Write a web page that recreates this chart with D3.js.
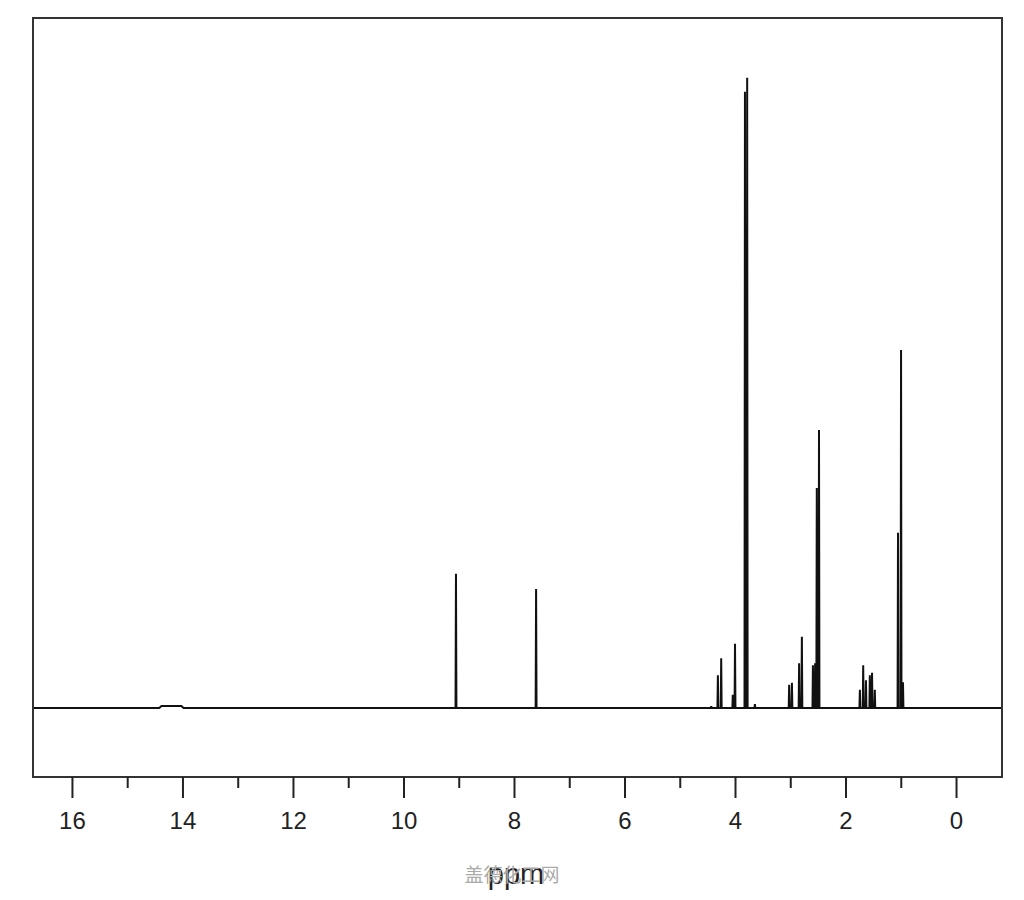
<!DOCTYPE html>
<html lang="en">
<head>
    <meta charset="UTF-8">
    <title>NMR spectrum</title>
    <script src="https://d3js.org/d3.v7.min.js"></script>
    <style>
        body { margin: 0; background: #fff; }
        svg { display: block; }
    </style>
</head>
<body>
    <svg width="1024" height="900"></svg>
    <script>
        // peak positions (ppm) and heights (tallest = 100)
        const peakPpm = [9.05, 7.60, 4.43, 4.31, 4.25, 4.04, 4.00, 3.82, 3.78, 3.64,
                         3.02, 2.97, 2.84, 2.79, 2.59, 2.55, 2.52, 2.48,
                         1.74, 1.68, 1.63, 1.56, 1.52, 1.47, 1.05, 0.995, 0.96];
        const peakHeight = [21.3, 18.9, 0.3, 5.2, 7.9, 2.1, 10.2, 97.8, 100, 0.6,
                            3.7, 4.0, 7.1, 11.3, 6.8, 7.1, 34.9, 44.1,
                            2.9, 6.8, 4.4, 5.2, 5.6, 2.9, 27.8, 56.8, 4.1];
        // broad low hump near 14 ppm
        const humpPpm = [14.42, 14.38, 14.02, 13.98];
        const humpHeight = [0, 0.3, 0.3, 0];

        const majorTicks = [16, 14, 12, 10, 8, 6, 4, 2, 0];
        const minorTicks = [15, 13, 11, 9, 7, 5, 3, 1];

        const frameL = 33, frameR = 1002, frameT = 18, frameB = 777;

        const svg = d3.select('svg');

        const x = d3.scaleLinear()
            .domain([16.705, -0.832])
            .range([frameL, frameR]);

        const y = d3.scaleLinear()
            .domain([-10.95, 109.5])
            .range([frameB, frameT]);

        // build the trace from high ppm to low ppm
        const w = 0.008;
        let pts = [{ p: x.domain()[0], h: 0 }];
        humpPpm.forEach((p, i) => pts.push({ p: p, h: humpHeight[i] }));
        d3.range(peakPpm.length)
            .sort((a, b) => peakPpm[b] - peakPpm[a])
            .forEach(i => {
                pts.push({ p: peakPpm[i] + w, h: 0 });
                pts.push({ p: peakPpm[i], h: peakHeight[i] });
                pts.push({ p: peakPpm[i] - w, h: 0 });
            });
        pts.push({ p: x.domain()[1], h: 0 });

        svg.append('path')
            .datum(pts)
            .attr('fill', 'none')
            .attr('stroke', '#111')
            .attr('stroke-width', 2)
            .attr('stroke-linejoin', 'miter')
            .attr('d', d3.line().x(d => x(d.p)).y(d => y(d.h)));

        // frame
        svg.append('rect')
            .attr('x', frameL)
            .attr('y', frameT)
            .attr('width', frameR - frameL)
            .attr('height', frameB - frameT)
            .attr('fill', 'none')
            .attr('stroke', '#333')
            .attr('stroke-width', 2);

        // minor ticks
        const minorAxis = svg.append('g')
            .attr('transform', `translate(0,${frameB})`)
            .call(d3.axisBottom(x).tickValues(minorTicks).tickSize(11).tickFormat(''));
        minorAxis.select('.domain').remove();
        minorAxis.selectAll('line').attr('stroke', '#222').attr('stroke-width', 2);

        // major ticks with labels
        const majorAxis = svg.append('g')
            .attr('transform', `translate(0,${frameB})`)
            .call(d3.axisBottom(x).tickValues(majorTicks).tickSize(21).tickPadding(14).tickFormat(d3.format('d')));
        majorAxis.select('.domain').remove();
        majorAxis.selectAll('line').attr('stroke', '#222').attr('stroke-width', 2);
        majorAxis.selectAll('text')
            .attr('fill', '#222')
            .style('font-family', '"Liberation Sans", Arial, sans-serif')
            .style('font-size', '24px');

        // axis title
        svg.append('text')
            .attr('x', 516)
            .attr('y', 884)
            .attr('text-anchor', 'middle')
            .attr('fill', '#222')
            .style('font-family', '"Liberation Sans", Arial, sans-serif')
            .style('font-size', '29px')
            .text('ppm');

        // watermark
        svg.append('text')
            .attr('x', 512)
            .attr('y', 882)
            .attr('text-anchor', 'middle')
            .attr('fill', '#aaa')
            .style('font-family', '"Noto Sans CJK SC", sans-serif')
            .style('font-size', '19px')
            .text('盖德化工网');
    </script>
</body>
</html>
